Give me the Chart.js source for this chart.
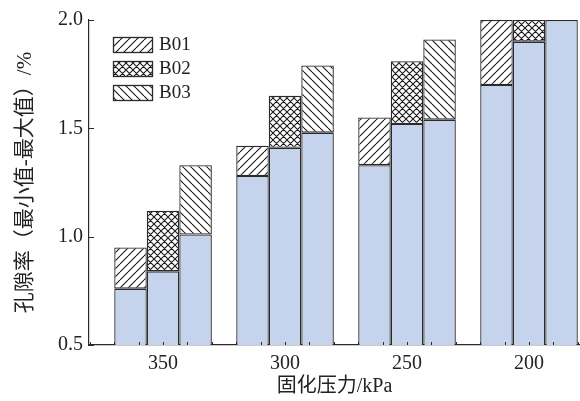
<!DOCTYPE html>
<html lang="zh-CN">
<head>
    <meta charset="UTF-8">
    <title>孔隙率</title>
    <script src="https://cdn.jsdelivr.net/npm/chart.js"></script>
    <style>
        body {
            margin: 0;
            background: #fff;
        }
        canvas {
            display: block;
        }
    </style>
</head>
<body>
<canvas id="grafico" width="580" height="401"></canvas>
<script>
// Dados
const pressoes = ['350', '300', '250', '200'];
const series = ['B01', 'B02', 'B03'];
const minB01 = [0.76, 1.28, 1.33, 1.70];
const maxB01 = [0.95, 1.42, 1.55, 2.00];
const minB02 = [0.84, 1.41, 1.52, 1.90];
const maxB02 = [1.12, 1.65, 1.81, 2.00];
const minB03 = [1.01, 1.48, 1.54, 2.00];
const maxB03 = [1.33, 1.79, 1.91, 2.00];
const yTicks = [0.5, 1.0, 1.5, 2.0];

const fonte = "'Liberation Serif', 'Times New Roman', 'Noto Sans CJK SC', serif";
const azul = '#c6d3ec';
const borda = '#2a2a2a';

// hachuras
function hachura(tam, dirs) {
    const c = document.createElement('canvas');
    c.width = c.height = tam;
    const g = c.getContext('2d');
    g.fillStyle = '#fff';
    g.fillRect(0, 0, tam, tam);
    g.strokeStyle = '#1a1a1a';
    g.lineWidth = 1.1;
    g.beginPath();
    for (const d of dirs) {
        for (let k = -1; k <= 1; k++) {
            if (d === '/') {
                g.moveTo(k * tam, tam);
                g.lineTo(k * tam + tam, 0);
            } else {
                g.moveTo(k * tam, 0);
                g.lineTo(k * tam + tam, tam);
            }
        }
    }
    g.stroke();
    return g.createPattern(c, 'repeat');
}
const padroes = [hachura(8, ['/']), hachura(7, ['/', '\\']), hachura(8, ['\\'])];

const mins = [minB01, minB02, minB03];
const maxs = [maxB01, maxB02, maxB03];
const datasets = [];
series.forEach((nome, s) => {
    datasets.push({
        label: nome + '_min',
        stack: nome,
        data: pressoes.map((p, i) => ({x: i + 1, y: mins[s][i]})),
        backgroundColor: azul,
        borderColor: borda,
        borderWidth: 1.3,
        borderSkipped: false
    });
    datasets.push({
        label: nome,
        stack: nome,
        data: pressoes.map((p, i) => ({x: i + 1, y: [mins[s][i], maxs[s][i]]})),
        backgroundColor: padroes[s],
        borderColor: borda,
        borderWidth: 1.3,
        borderSkipped: false
    });
});

// legenda dentro da área e ticks para dentro
const extras = {
    id: 'extras',
    afterDraw(chart) {
        const ctx = chart.ctx;
        const xs = chart.scales.x, ys = chart.scales.y;
        const area = chart.chartArea;
        ctx.save();
        ctx.strokeStyle = borda;
        ctx.lineWidth = 1;
        ctx.beginPath();
        ys.ticks.forEach(t => {
            const py = Math.round(ys.getPixelForValue(t.value)) + 0.5;
            ctx.moveTo(area.left, py);
            ctx.lineTo(area.left + 5, py);
        });
        for (let v = Math.ceil(xs.min / 0.2) * 0.2; v <= xs.max; v += 0.2) {
            const px = Math.round(xs.getPixelForValue(v)) + 0.5;
            ctx.moveTo(px, area.bottom);
            ctx.lineTo(px, area.bottom - 3);
        }
        ctx.stroke();

        series.forEach((nome, s) => {
            const bx = 113, by = 37 + s * 24;
            ctx.fillStyle = padroes[s];
            ctx.fillRect(bx, by, 39, 15);
            ctx.strokeStyle = borda;
            ctx.lineWidth = 1.3;
            ctx.strokeRect(bx + 0.5, by + 0.5, 39, 15);
            ctx.fillStyle = '#222';
            ctx.font = '19px ' + fonte;
            ctx.textBaseline = 'middle';
            ctx.fillText(nome, 159, by + 8.5);
        });
        ctx.restore();
    }
};

const grafico = new Chart(document.getElementById('grafico').getContext('2d'), {
    type: 'bar',
    data: { datasets: datasets },
    plugins: [extras],
    options: {
        responsive: false,
        animation: false,
        categoryPercentage: 0.8,
        barPercentage: 1.0,
        layout: { padding: { top: 20, right: 0, left: 0, bottom: 0 } },
        plugins: {
            legend: { display: false },
            tooltip: { enabled: false }
        },
        scales: {
            x: {
                type: 'linear',
                stacked: true,
                offset: false,
                min: 0.393,
                max: 4.418,
                afterBuildTicks(s) {
                    s.ticks = pressoes.map((p, i) => ({value: i + 1}));
                },
                afterFit(s) { s.height = 56; },
                grid: { display: false, drawTicks: false, offset: false },
                border: { display: true, color: borda, width: 1.2 },
                ticks: {
                    padding: 7,
                    color: '#222',
                    font: { family: fonte, size: 20 },
                    callback: (v) => pressoes[v - 1]
                },
                title: {
                    display: true,
                    text: '固化压力/kPa',
                    color: '#222',
                    font: { family: fonte, size: 20 },
                    padding: { top: 0, bottom: 2 }
                }
            },
            y: {
                stacked: false,
                min: 0.5,
                max: 2.0,
                afterBuildTicks(s) {
                    s.ticks = yTicks.map(v => ({value: v}));
                },
                afterFit(s) { s.width = 89; },
                grid: { display: false, drawTicks: false },
                border: { display: true, color: borda, width: 1.2 },
                ticks: {
                    padding: 6,
                    color: '#222',
                    font: { family: fonte, size: 20 },
                    callback: (v) => v.toFixed(1)
                },
                title: {
                    display: true,
                    text: '孔隙率（最小值-最大值）/%',
                    color: '#222',
                    font: { family: fonte, size: 21 },
                    padding: { top: 13, bottom: 0 }
                }
            }
        }
    }
});
</script>
</body>
</html>
